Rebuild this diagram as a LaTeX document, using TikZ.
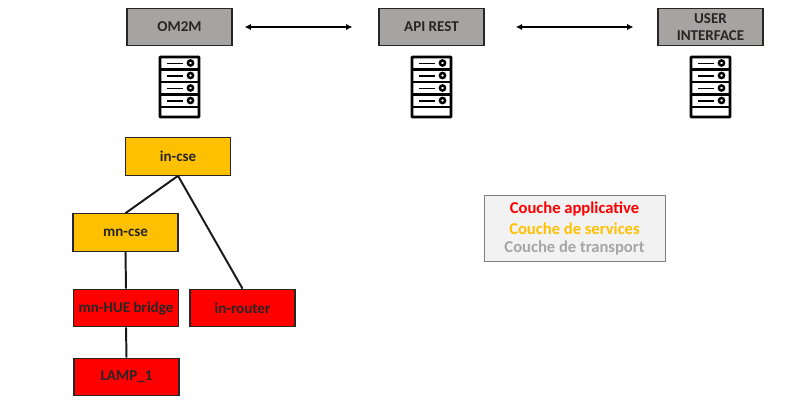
\documentclass[tikz,border=0pt]{standalone}
\usepackage{fontspec}
\setmainfont{Carlito}
\usetikzlibrary{arrows.meta}
\definecolor{boxgray}{HTML}{A6A3A3}
\definecolor{boxorange}{HTML}{FFC000}
\definecolor{boxred}{HTML}{FF0000}
\definecolor{legendgray}{HTML}{F2F2F2}
\definecolor{legendline}{HTML}{7F7F7F}
\definecolor{transportgray}{HTML}{A6A6A6}
\tikzset{
  layerbox/.style={draw=black!85,line width=0.75pt,minimum width=2.625cm,minimum height=0.94cm,
    inner sep=0pt,align=center,font=\bfseries\fontsize{10.7}{12.5}\selectfont,text=black!85},
  grayBox/.style={layerbox,fill=boxgray},
  orangeBox/.style={layerbox,fill=boxorange},
  redBox/.style={layerbox,fill=boxred},
  legendText/.style={font=\bfseries\fontsize{11.8}{14}\selectfont,inner sep=0pt},
  link/.style={line width=1.4pt,black!90},
  exchange/.style={{Latex[length=4.5pt,width=4.5pt]}-{Latex[length=4.5pt,width=4.5pt]},line width=0.9pt,black},
  serverrack/.pic={
    % outer frame, then the five drawers
    \draw[line width=1.9pt,rounded corners=0.4pt] (0,0) rectangle (39,60);
    \foreach \y in {12.5,25,37.5,50} {
      \draw[line width=1.7pt] (0,\y) -- (39,\y);
    }
    \foreach \y in {6,18.5,31,43.5} {
      \draw[line width=1.2pt] (7,\y+0.5) -- (23,\y+0.5);
      \draw[line width=1.7pt] (30.5,\y) circle (2.6);
    }
  }
}
\begin{document}
\begin{tikzpicture}[x=0.025cm,y=-0.025cm]
    \useasboundingbox (0,0) rectangle (790,400);

    % Top row
    \node[grayBox] (om2m) at (179.5,27) {OM2M};
    \node[grayBox] (apirest) at (431.5,27) {API REST};
    \node[grayBox] (userif) at (710.5,27) {USER\\INTERFACE};

    \draw[exchange,shorten <=0.3cm,shorten >=0.65cm] (om2m) -- (apirest);
    \draw[exchange,shorten <=0.78cm,shorten >=0.6cm] (apirest) -- (userif);

    % Servers under the top row
    \foreach \x in {160,412,691} {
      \pic at (\x,57) {serverrack};
    }

    % Resource tree
    \node[orangeBox] (incse) at (178,156.5) {in-cse};
    \node[orangeBox] (mncse) at (125.5,232.5) {mn-cse};
    \node[redBox] (mnhue) at (126,308) {mn-HUE bridge};
    \node[redBox] (inrouter) at (242.5,308) {in-router};
    \node[redBox] (lamp) at (126.5,377) {LAMP\_1};

    \draw[link] (incse.south) -- (mncse.north);
    \draw[link] (incse.south) -- (inrouter.north);
    \draw[link] (mncse.south) -- (mnhue.north);
    \draw[link] (mnhue.south) -- (lamp.north);

    % Legend
    \node[draw=legendline,fill=legendgray,line width=0.7pt,minimum width=4.5cm,minimum height=1.625cm,inner sep=0pt] (legend) at (575,228.5) {};
    \node[legendText,text=boxred] (applayer) at (574.5,208.5) {Couche applicative};
    \node[legendText,text=boxorange] (servlayer) at (574.5,228.5) {Couche de services};
    \node[legendText,text=transportgray] (translayer) at (574.5,248) {Couche de transport};
\end{tikzpicture}
\end{document}
